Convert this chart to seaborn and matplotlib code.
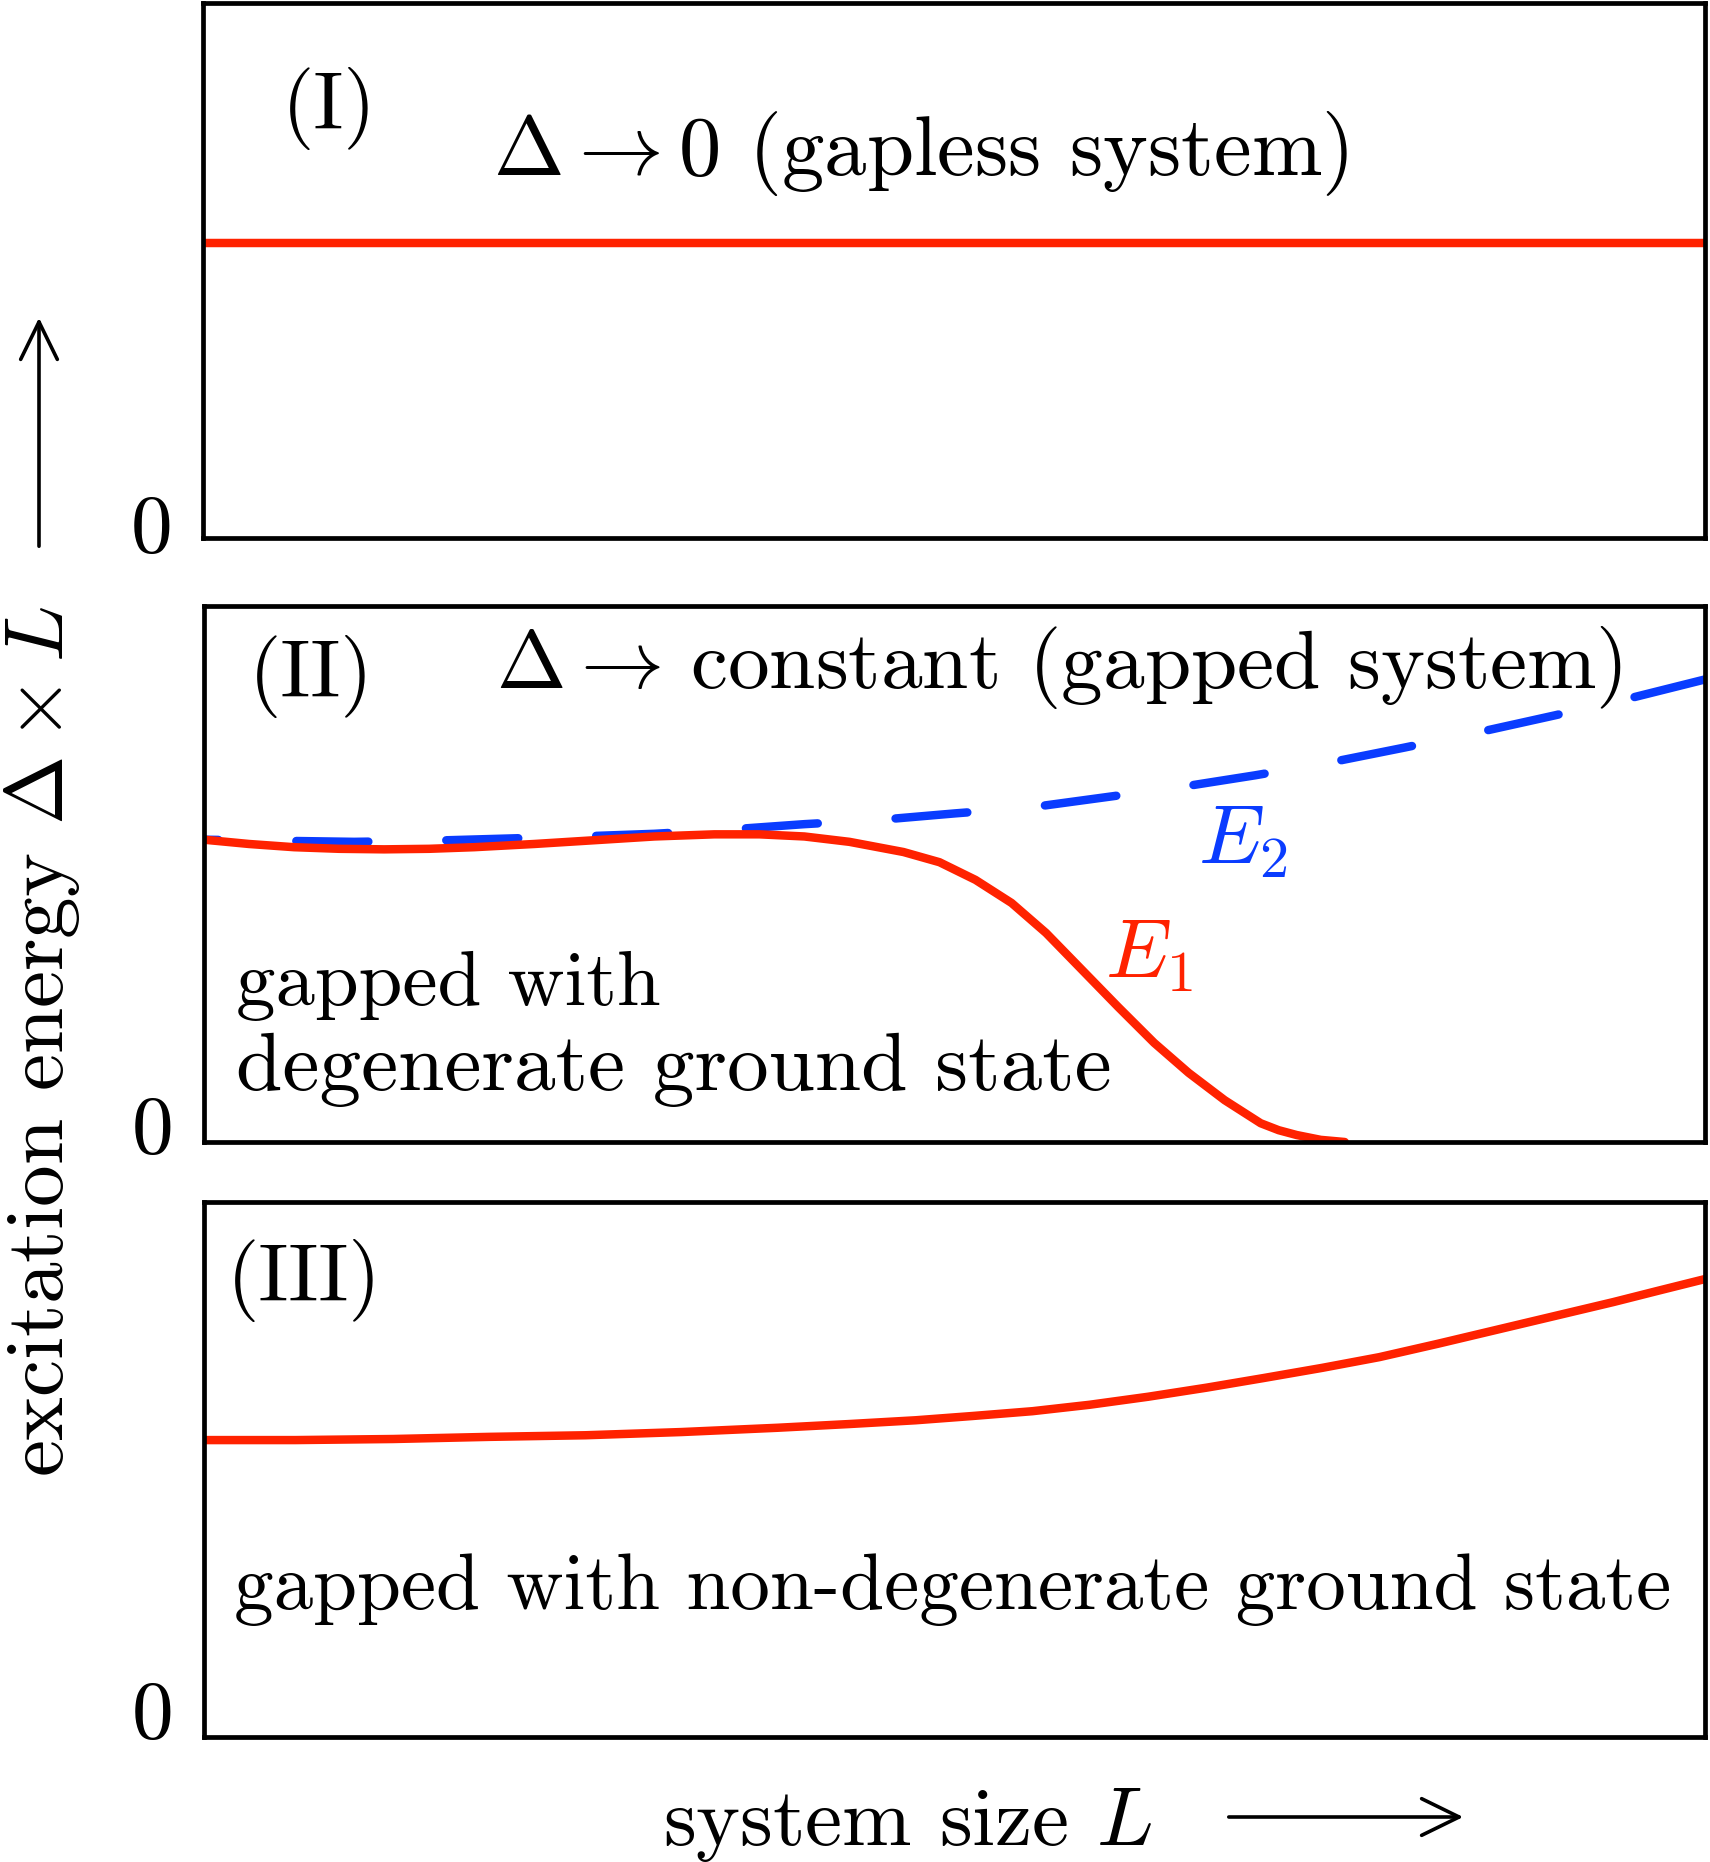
import numpy as np
import pandas as pd
import matplotlib
matplotlib.use("Agg")
import matplotlib.pyplot as plt
from matplotlib.patches import FancyArrowPatch
import seaborn as sns

# ---------------- data (arbitrary units, L and Delta*L from 0 to 100) -------------
gapless_x = [0, 100]
gapless_y = [55.1, 55.1]

e1_x = [0, 3, 6, 9, 12, 15, 18, 22, 26, 30, 34, 37, 40, 43, 46.6, 49.0, 51.4, 53.8,
        56.1, 58.5, 60.9, 63.3, 65.6, 68.0, 70.4, 71.6, 72.8, 74.4, 76.0]
e1_y = [56.4, 55.6, 55.0, 54.7, 54.6, 54.7, 55.0, 55.6, 56.3, 57.0, 57.4, 57.4, 57.0,
        56.0, 54.1, 52.2, 48.9, 44.6, 39.0, 32.1, 25.2, 18.5, 12.9, 7.8, 3.5, 2.2,
        1.3, 0.4, 0.0]

e2_x = [0, 5, 10, 15, 20, 25, 30, 35, 40, 45, 50, 55, 60, 65, 70, 75, 80, 85, 90, 95, 100]
e2_y = [56.4, 56.2, 56.0, 56.2, 56.6, 57.0, 57.5, 58.3, 59.3, 60.1, 61.3, 62.4, 64.3,
        66.2, 68.4, 70.8, 73.6, 76.5, 79.6, 82.8, 86.3]

nd_x = [0, 6.1, 12.6, 19.0, 25.4, 31.8, 38.2, 43.0, 47.4, 51.2, 55.2, 59.0, 62.9,
        66.8, 70.6, 74.5, 78.3, 82.2, 86.1, 90.0, 93.9, 97.0, 100]
nd_y = [55.5, 55.5, 55.7, 56.1, 56.4, 57.0, 57.8, 58.5, 59.2, 60.0, 60.9, 62.1, 63.6,
        65.3, 67.1, 69.0, 71.0, 73.5, 76.1, 78.7, 81.3, 83.5, 85.6]

panel_labels = ["(I)", "(II)", "(III)"]
zero_label = ["0"]

# ---------------- style -------------
sns.set_theme(style="white")
plt.rcParams["font.family"] = ["cmr10", "DejaVu Serif"]
plt.rcParams["mathtext.fontset"] = "cm"
plt.rcParams["axes.unicode_minus"] = False
plt.rcParams["axes.formatter.use_mathtext"] = True
plt.rcParams["text.color"] = "black"
plt.rcParams["ytick.color"] = "black"
plt.rcParams["ytick.labelcolor"] = "black"

RED = "#ff2200"
BLUE = "#0a3cff"
FS = 60
LW = 6.1

fig = plt.figure(figsize=(17.1, 18.62), dpi=100)
W, H = 1710.0, 1862.0


def add_panel(left, top, right, bottom):
    return fig.add_axes([left / W, 1 - bottom / H, (right - left) / W, (bottom - top) / H])


ax1 = add_panel(203, 3, 1705, 538)
ax2 = add_panel(204, 606, 1705, 1142)
ax3 = add_panel(204, 1202, 1705, 1737)

zero_tick = [2.8, 3.2, 5.2]
for ax, zt in zip((ax1, ax2, ax3), zero_tick):
    ax.set_xlim(0, 100)
    ax.set_ylim(0, 100)
    ax.set_xticks([])
    ax.set_yticks([zt])
    ax.set_yticklabels(zero_label, fontsize=FS, color="black")
    ax.tick_params(axis="y", length=0, pad=22)
    for s in ax.spines.values():
        s.set_linewidth(3.4)
        s.set_color("black")
        s.set_zorder(5)
    ax.set_xlabel("")
    ax.set_ylabel("")

# panel I
sns.lineplot(x=gapless_x, y=gapless_y, ax=ax1, color=RED, lw=LW, estimator=None,
             solid_capstyle="butt")
ax1.text(0.084, 0.802, panel_labels[0], transform=ax1.transAxes, fontsize=FS,
         ha="center", va="center")
ax1.text(0.193, 0.718, r"$\Delta\rightarrow0$ (gapless system)", transform=ax1.transAxes,
         fontsize=61, ha="left", va="center")

# panel II
sns.lineplot(x=e2_x, y=e2_y, ax=ax2, color=BLUE, lw=LW, estimator=None,
             dash_capstyle="round")
ax2.lines[-1].set_linestyle((6.8, (8.5, 9.2)))
sns.lineplot(x=e1_x, y=e1_y, ax=ax2, color=RED, lw=LW, estimator=None,
             solid_capstyle="round", solid_joinstyle="round")
ax2.text(0.0713, 0.868, panel_labels[1], transform=ax2.transAxes, fontsize=FS,
         ha="center", va="center")
ax2.text(0.1945, 0.886, r"$\Delta\rightarrow\,$constant (gapped system)",
         transform=ax2.transAxes, fontsize=FS, ha="left", va="center")
ax2.text(0.662, 0.558, r"$E_2$", transform=ax2.transAxes, fontsize=FS, color=BLUE,
         ha="left", va="center")
ax2.text(0.600, 0.347, r"$E_1$", transform=ax2.transAxes, fontsize=FS, color=RED,
         ha="left", va="center")
ax2.text(0.0213, 0.256, "gapped with", transform=ax2.transAxes, fontsize=56.8,
         ha="left", va="baseline")
ax2.text(0.0213, 0.097, "degenerate ground state", transform=ax2.transAxes, fontsize=FS,
         ha="left", va="baseline")

# panel III
sns.lineplot(x=nd_x, y=nd_y, ax=ax3, color=RED, lw=LW, estimator=None,
             solid_capstyle="round", solid_joinstyle="round")
ax3.text(0.0666, 0.854, panel_labels[2], transform=ax3.transAxes, fontsize=FS,
         ha="center", va="center")
ax3.text(0.020, 0.239, "gapped with non-degenerate ground state", transform=ax3.transAxes,
         fontsize=57.0, ha="left", va="baseline")

# axis labels with arrows
fig.text(908 / W, 1 - 1845 / H, r"system size $L$", fontsize=FS, ha="center",
         va="baseline")
fig.add_artist(FancyArrowPatch((1226 / W, 1 - 1817 / H), (1466 / W, 1 - 1817 / H),
                               transform=fig.transFigure,
                               arrowstyle="->,head_length=0.45,head_width=0.22",
                               mutation_scale=60, lw=2.6, color="black"))

fig.text(42 / W, 1 - 1041 / H, r"excitation energy $\Delta\times L$", fontsize=FS,
         rotation=90, ha="center", va="center")
fig.add_artist(FancyArrowPatch((39 / W, 1 - 549 / H), (39 / W, 1 - 315 / H),
                               transform=fig.transFigure,
                               arrowstyle="->,head_length=0.45,head_width=0.22",
                               mutation_scale=60, lw=2.6, color="black"))

fig.savefig("out.png", dpi=100, facecolor="white")
